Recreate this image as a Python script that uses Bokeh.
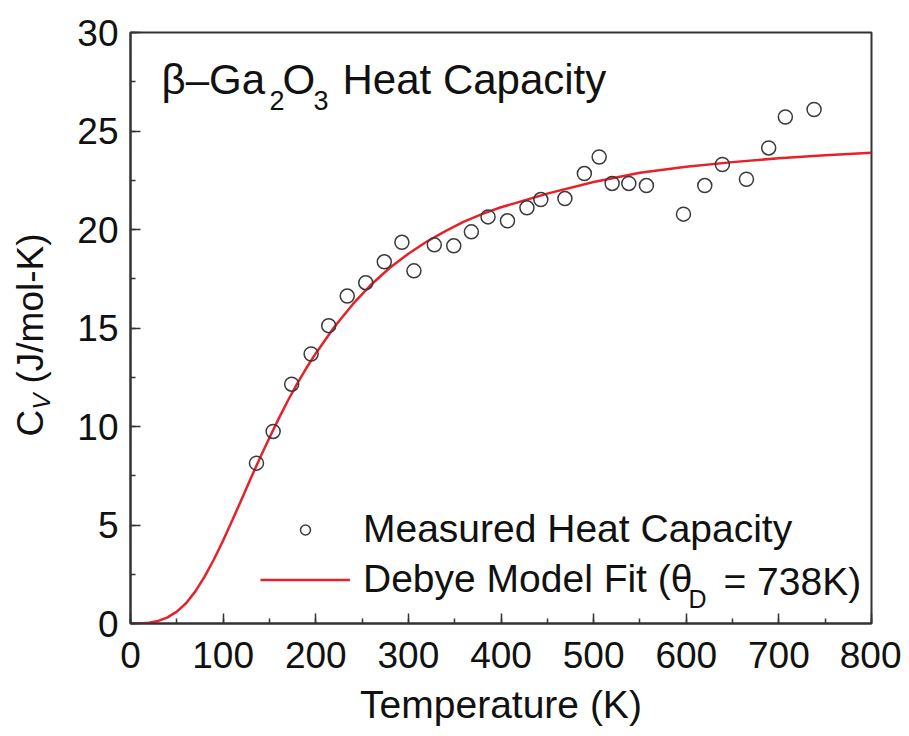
import math
from bokeh.plotting import figure
from bokeh.layouts import row
from bokeh.models import Label, Legend, LegendItem, SingleIntervalTicker
from bokeh.embed import file_html
from bokeh.resources import INLINE

# ---- data ----
T_meas = [136, 154, 174, 195, 214, 234, 254, 274, 293, 306, 328, 349, 368, 386,
          407, 428, 443, 469, 490, 506, 520, 538, 557, 597, 620, 639, 665, 689,
          707, 738]
Cv_meas = [8.14, 9.75, 12.15, 13.68, 15.12, 16.62, 17.30, 18.36, 19.35, 17.90,
           19.22, 19.17, 19.88, 20.64, 20.44, 21.10, 21.52, 21.57, 22.84, 23.68,
           22.34, 22.34, 22.23, 20.78, 22.23, 23.30, 22.55, 24.14, 25.71, 26.09]

T_fit = [0, 10, 20, 30, 40, 50, 60, 70, 80, 90, 100, 110, 120, 130, 140, 150,
         160, 170, 180, 190, 200, 220, 240, 260, 280, 300, 320, 340, 360, 380,
         400, 450, 500, 550, 600, 650, 700, 750, 800]
Cv_fit = [0, 0.005, 0.04, 0.13, 0.31, 0.60, 1.03, 1.63, 2.38, 3.25, 4.21, 5.25,
          6.31, 7.38, 8.43, 9.43, 10.40, 11.32, 12.18, 12.98, 13.71, 15.05,
          16.21, 17.21, 18.06, 18.77, 19.39, 19.92, 20.40, 20.79, 21.13, 21.82,
          22.41, 22.88, 23.18, 23.42, 23.62, 23.77, 23.90]

x_tick_interval = 100
y_tick_interval = 5

FONT = "Liberation Sans"
TXT = "#111111"
AX = "#333333"
RED = "#e8202a"

# ---- layout geometry (page pixels) ----
LW = 60                      # width of the strip holding the y-axis title
FX0, FX1, FY0, FY1 = 130, 871, 623, 32

def dx(px):
    return (px - FX0) / (FX1 - FX0) * 800
def dy(py):
    return (FY0 - py) / (FY0 - FY1) * 30

# ---- main plot ----
p = figure(frame_width=FX1 - FX0, frame_height=FY0 - FY1,
           x_range=(0, 800), y_range=(0, 30),
           output_backend="svg", toolbar_location=None,
           min_border_left=FX0 - LW, min_border_right=30,
           min_border_top=FY1, min_border_bottom=100)
p.xgrid.visible = False
p.ygrid.visible = False
p.outline_line_color = AX
p.outline_line_width = 2

p.xaxis.ticker = SingleIntervalTicker(interval=x_tick_interval, num_minor_ticks=2)
p.yaxis.ticker = SingleIntervalTicker(interval=y_tick_interval, num_minor_ticks=2)
for ax in (p.xaxis[0], p.yaxis[0]):
    ax.axis_line_color = AX
    ax.axis_line_width = 2
    ax.major_tick_in = 10
    ax.major_tick_out = 0
    ax.minor_tick_in = 5
    ax.minor_tick_out = 0
    ax.major_tick_line_color = AX
    ax.minor_tick_line_color = AX
    ax.major_tick_line_width = 1.5
    ax.minor_tick_line_width = 1.5
    ax.major_label_text_font = FONT
    ax.major_label_text_font_size = "37px"
    ax.major_label_text_color = TXT
p.xaxis.major_label_standoff = 18
p.yaxis.major_label_standoff = 12

p.xaxis.axis_label = "Temperature (K)"
p.xaxis.axis_label_text_font = FONT
p.xaxis.axis_label_text_font_size = "39px"
p.xaxis.axis_label_text_font_style = "normal"
p.xaxis.axis_label_text_color = TXT
p.xaxis.axis_label_standoff = 12

ln = p.line(T_fit, Cv_fit, line_color=RED, line_width=2.5)
sc = p.scatter(T_meas, Cv_meas, marker="circle", size=14, fill_color=None,
               line_color="#3a3a3a", line_width=1.5)

legend = Legend(items=[LegendItem(label="Measured Heat Capacity", renderers=[sc]),
                       LegendItem(label="Debye Model Fit (θ", renderers=[ln])],
                location=(130, 22), glyph_width=90, glyph_height=25,
                label_standoff=13, label_text_font=FONT,
                label_text_font_size="39px", label_text_color=TXT,
                padding=0, margin=0, spacing=6,
                border_line_color=None, background_fill_alpha=0)
p.add_layout(legend)

def lab(fig, x, y, text, size, angle=0.0, style="normal"):
    fig.add_layout(Label(x=x, y=y, text=text, text_font=FONT,
                         text_font_size=size, text_color=TXT, angle=angle,
                         text_align="left", text_baseline="middle",
                         text_font_style=style))

# legend subscript continuation (positions are cap centres, page px)
lab(p, dx(688), dy(598), "D", "25px")
lab(p, dx(723), dy(581), "= 738K)", "39px")

# title inside the plot
lab(p, dx(161), dy(79), "β–Ga", "42px")
lab(p, dx(269), dy(100), "2", "27px")
lab(p, dx(282), dy(79), "O", "42px")
lab(p, dx(313), dy(100), "3", "27px")
lab(p, dx(342), dy(79), "Heat Capacity", "42px")

# ---- strip with the rotated y-axis title ----
# its frame is aligned with the main frame, so its y range uses page pixels
yl = figure(frame_width=LW, frame_height=FY0 - FY1,
            x_range=(0, LW), y_range=(FY0, FY1),
            x_axis_type=None, y_axis_type=None,
            output_backend="svg", toolbar_location=None,
            min_border_left=0, min_border_right=0,
            min_border_top=FY1, min_border_bottom=100)
yl.xgrid.visible = False
yl.ygrid.visible = False
yl.outline_line_color = None
A = math.pi / 2
lab(yl, 30, 436, "C", "37px", angle=A)
lab(yl, 41, 409, "V", "24px", angle=A, style="italic")
lab(yl, 30, 383, "(J/mol-K)", "37px", angle=A)

page = row(yl, p)
open("out.html", "w").write(file_html(page, INLINE))
